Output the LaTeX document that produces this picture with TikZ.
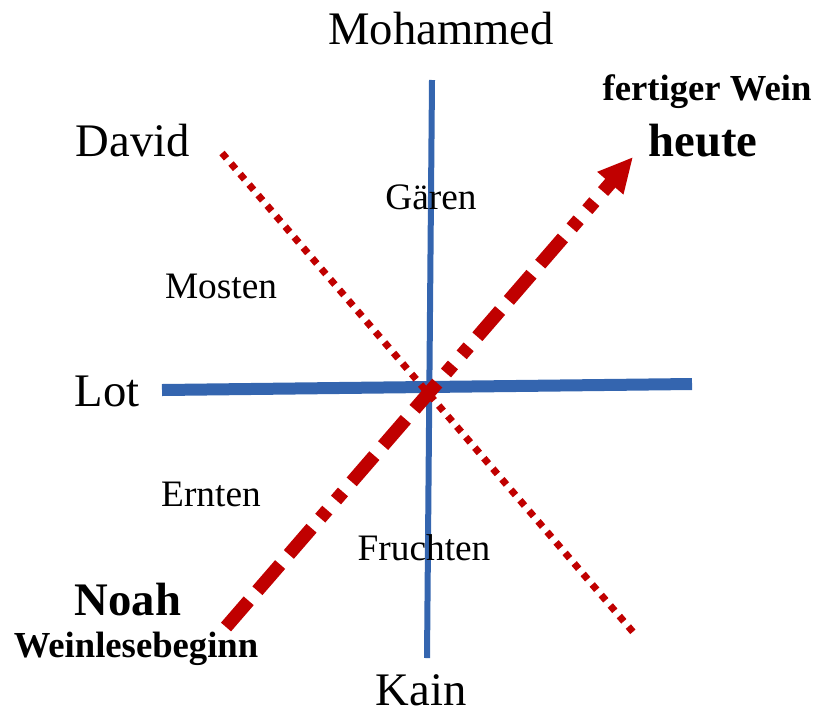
\documentclass[tikz,border=0pt]{standalone}
\usepackage{fontspec}
\setmainfont{Liberation Serif}
\usetikzlibrary{arrows.meta}
\definecolor{axisblue}{RGB}{52,101,175}
\definecolor{winered}{RGB}{192,0,0}
\tikzset{
  big/.style={font=\fontsize{35}{40}\selectfont, anchor=base, inner sep=0pt},
  mid/.style={font=\fontsize{28}{32}\selectfont, anchor=base, inner sep=0pt},
  bigbold/.style={font=\fontsize{35}{40}\selectfont\bfseries, anchor=base, inner sep=0pt},
  midbold/.style={font=\fontsize{27.5}{31}\selectfont\bfseries, anchor=base, inner sep=0pt},
  axisline/.style={draw=axisblue},
  dotline/.style={draw=winered, line width=5.2pt, dash pattern=on 5.2pt off 5.2pt},
  flowarrow/.style={draw=winered, line width=10pt,
    dash pattern=on 26pt off 10pt on 26pt off 10pt on 26pt off 10pt on 8pt off 10pt on 8pt off 10pt,
    -{Triangle[length=26pt,width=24pt]}}
}
\begin{document}
\begin{tikzpicture}[x=0.75pt,y=-0.75pt]
\useasboundingbox (0,0) rectangle (816,714);
% axis end points
\coordinate (vt) at (432,80);
\coordinate (vb) at (427,658);
\coordinate (hl) at (162,390);
\coordinate (hr) at (692,384);
\coordinate (dt) at (222,153);
\coordinate (db) at (633,632);
\coordinate (as) at (226,627);
\coordinate (ae) at (633,157);
% lines
\draw[axisline, line width=4.5pt] (vt) -- (vb);
\draw[axisline, line width=9pt] (hl) -- (hr);
\draw[dotline] (dt) -- (db);
\draw[flowarrow] (as) -- (ae);
% labels
\node[big] (moh) at (441,44) {Mohammed};
\node[big] (dav) at (133,156) {David};
\node[midbold] (fw) at (707,100) {fertiger Wein};
\node[bigbold] (heu) at (703,156) {heute};
\node[mid] (gae) at (431,209) {Gären};
\node[mid] (mos) at (221,298) {Mosten};
\node[big] (lot) at (107,406) {Lot};
\node[mid] (ern) at (211,506) {Ernten};
\node[mid] (fru) at (424,560) {Fruchten};
\node[bigbold] (noa) at (128,615) {Noah};
\node[midbold] (wei) at (136,657) {Weinlesebeginn};
\node[big] (kai) at (421,705) {Kain};
\end{tikzpicture}
\end{document}
